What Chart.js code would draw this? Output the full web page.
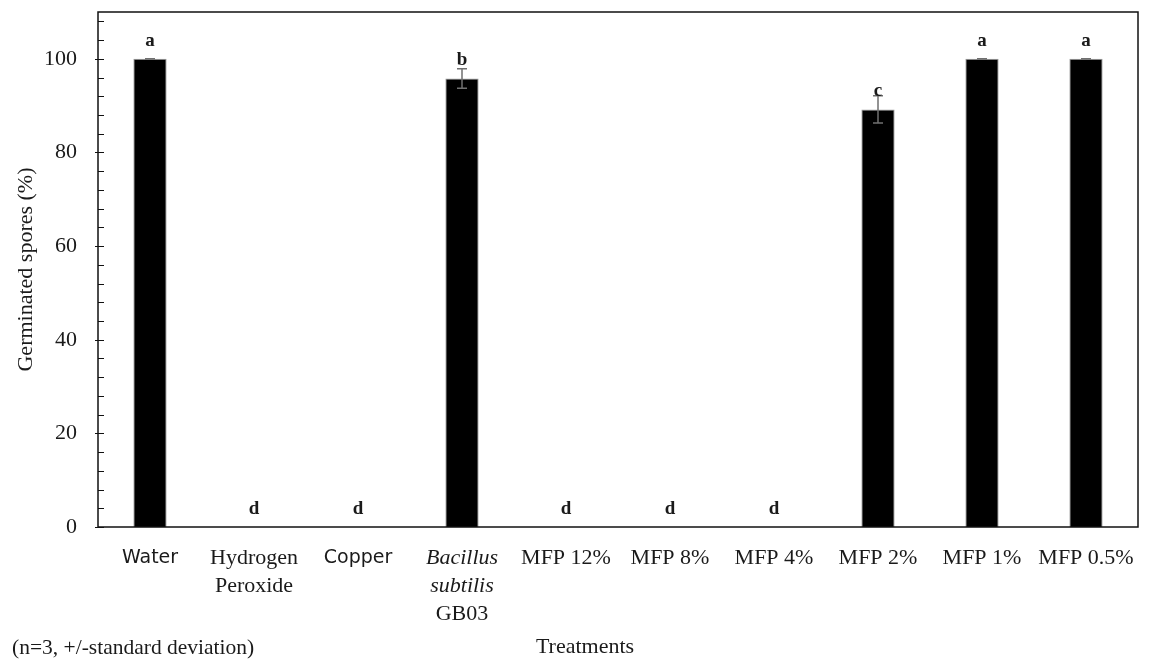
<!DOCTYPE html>
<html>
<head>
<meta charset="utf-8">
<title>Germinated spores by treatment</title>
<script src="https://cdn.jsdelivr.net/npm/chart.js@4.4.1/dist/chart.umd.min.js"></script>
<style>
  html, body { margin: 0; padding: 0; background: #fff; }
  #wrap { width: 1151px; height: 659px; position: relative; }
</style>
</head>
<body>
<div id="wrap"><canvas id="chart"></canvas></div>
<script>
// treatments, in plotting order
const treatments = ['Water', 'Hydrogen Peroxide', 'Copper', 'Bacillus subtilis GB03', 'MFP 12%', 'MFP 8%', 'MFP 4%', 'MFP 2%', 'MFP 1%', 'MFP 0.5%'];
// how each category label wraps under its bar
const labelLines = [
  ['Water'], ['Hydrogen', 'Peroxide'], ['Copper'], ['Bacillus', 'subtilis', 'GB03'],
  ['MFP 12%'], ['MFP 8%'], ['MFP 4%'], ['MFP 2%'], ['MFP 1%'], ['MFP 0.5%'],
];
// germinated spores (%), mean of n=3
const germinated = [100, 0, 0, 95.8, 0, 0, 0, 89.2, 100, 100];
// standard deviation
const stdDev = [0, 0, 0, 2.1, 0, 0, 0, 2.9, 0, 0];
// significance groups
const groups = ['a', 'd', 'd', 'b', 'd', 'd', 'd', 'c', 'a', 'a'];
// y axis
const yMin = 0;
const yMax = 110;
const yStep = 20;
const yMinorStep = 4;

const SERIF = '"Liberation Serif", "Times New Roman", serif';
const SANS = '"DejaVu Sans", sans-serif';
const TEXT = '#1a1a1a';

function lineFont(text) {
  if (text === 'Water' || text === 'Copper') return '19px ' + SANS;
  if (text === 'Bacillus' || text === 'subtilis') return 'italic 22px ' + SERIF;
  return '22px ' + SERIF;
}

// frame, inward ticks, error bars, group letters and all free text
const annotations = {
  id: 'annotations',
  afterDatasetsDraw(chart) {
    const { ctx, chartArea: a, scales: { x, y } } = chart;
    ctx.save();

    // error bars
    ctx.strokeStyle = '#707070';
    ctx.lineWidth = 1.5;
    germinated.forEach((v, i) => {
      if (v <= 0) return;
      const cx = x.getPixelForValue(i);
      const hi = y.getPixelForValue(v + stdDev[i]);
      const lo = y.getPixelForValue(v - stdDev[i]);
      ctx.beginPath();
      ctx.moveTo(cx, hi); ctx.lineTo(cx, lo);
      ctx.moveTo(cx - 5, hi); ctx.lineTo(cx + 5, hi);
      ctx.moveTo(cx - 5, lo); ctx.lineTo(cx + 5, lo);
      ctx.stroke();
    });

    // group letters
    ctx.fillStyle = TEXT;
    ctx.font = 'bold 19px ' + SERIF;
    ctx.textAlign = 'center';
    ctx.textBaseline = 'middle';
    groups.forEach((g, i) => {
      ctx.fillText(g, x.getPixelForValue(i), y.getPixelForValue(germinated[i]) - 18);
    });

    // plot frame
    ctx.strokeStyle = '#111';
    ctx.lineWidth = 1.5;
    ctx.strokeRect(a.left, a.top, a.right - a.left, a.bottom - a.top);

    // y tick marks, pointing into the plot
    ctx.lineWidth = 1.2;
    ctx.beginPath();
    for (let v = yMin; v < yMax; v += yMinorStep) {
      const py = Math.round(y.getPixelForValue(v)) + 0.5;
      const major = v % yStep === 0;
      ctx.moveTo(a.left - (major ? 3 : 0), py);
      ctx.lineTo(a.left + 6, py);
    }
    ctx.stroke();

    // category labels
    ctx.textBaseline = 'middle';
    labelLines.forEach((lines, i) => {
      const cx = x.getPixelForValue(i);
      lines.forEach((t, j) => {
        ctx.font = lineFont(t);
        ctx.fillText(t, cx, a.bottom + 31 + j * 28);
      });
    });

    // axis titles and note
    ctx.font = '22px ' + SERIF;
    ctx.fillText('Treatments', 585, 647);
    ctx.textAlign = 'left';
    ctx.font = '21.5px ' + SERIF;
    ctx.fillText('(n=3, +/-standard deviation)', 12, 648);

    ctx.translate(26, (a.top + a.bottom) / 2);
    ctx.rotate(-Math.PI / 2);
    ctx.textAlign = 'center';
    ctx.font = '22px ' + SERIF;
    ctx.fillText('Germinated spores (%)', 0, 0);

    ctx.restore();
  },
};

new Chart(document.getElementById('chart'), {
  type: 'bar',
  data: {
    labels: treatments,
    datasets: [{
      label: 'Germinated spores (%)',
      data: germinated,
      backgroundColor: '#000',
      borderColor: '#9a9a9a',
      borderWidth: 1,
      barPercentage: 0.32,
      categoryPercentage: 1,
    }],
  },
  options: {
    responsive: true,
    maintainAspectRatio: false,
    animation: false,
    devicePixelRatio: 1,
    layout: { padding: { left: 0, top: 12, right: 13, bottom: 0 } },
    plugins: {
      legend: { display: false },
      tooltip: { enabled: false },
    },
    scales: {
      x: {
        grid: { display: false, drawTicks: false },
        border: { display: false },
        ticks: { display: false },
        afterFit: (s) => { s.height = 132; s.paddingLeft = 0; s.paddingRight = 0; },
      },
      y: {
        min: yMin,
        max: yMax,
        grid: { display: false, drawTicks: false },
        border: { display: false },
        ticks: {
          stepSize: yStep,
          includeBounds: false,
          padding: 21,
          color: TEXT,
          font: { family: SERIF, size: 22 },
        },
        afterFit: (s) => { s.width = 98; s.paddingTop = 0; s.paddingBottom = 0; },
      },
    },
  },
  plugins: [annotations],
});
</script>
</body>
</html>
